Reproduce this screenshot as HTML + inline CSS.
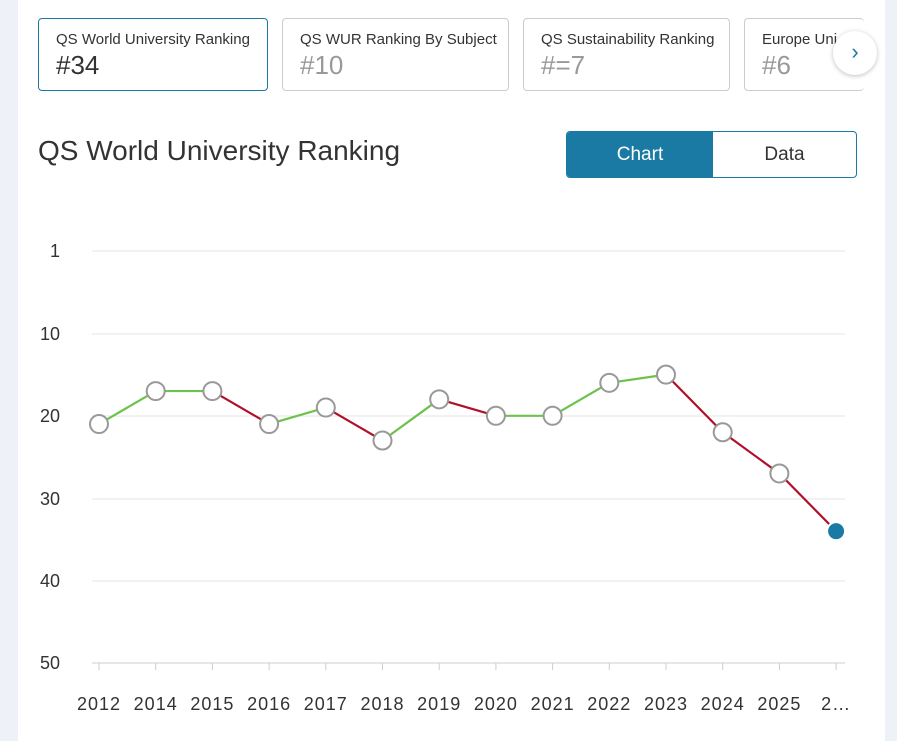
<!DOCTYPE html>
<html><head><style>
body{margin:0;width:897px;height:741px;background:#fff;font-family:"Liberation Sans",sans-serif;position:relative;overflow:hidden}
.strip{position:absolute;top:0;bottom:0;background:#eef2f8}
.card{position:absolute;top:18px;height:73px;border:1px solid #ccc;border-radius:4px;background:#fff;box-sizing:border-box;padding:12px 0 0 17px;overflow:hidden;white-space:nowrap}
.card .t{font-size:15px;color:#333}
.card .n{font-size:26px;color:#999;margin-top:2px}
</style></head><body>
<div class="strip" style="left:0;width:18px"></div>
<div class="strip" style="left:885px;width:12px"></div>
<div class="card" style="left:38px;width:230px;border-color:#1b7aa3"><div class="t">QS World University Ranking</div><div class="n" style="color:#333">#34</div></div>
<div class="card" style="left:282px;width:227px"><div class="t">QS WUR Ranking By Subject</div><div class="n">#10</div></div>
<div class="card" style="left:523px;width:207px"><div class="t">QS Sustainability Ranking</div><div class="n">#=7</div></div>
<div class="card" style="left:744px;width:120px;border-right:none"><div class="t">Europe Uni</div><div class="n">#6</div></div>
<div style="position:absolute;left:833px;top:31px;width:44px;height:44px;border-radius:50%;background:#fff;box-shadow:0 1px 5px rgba(0,0,0,.25);text-align:center;line-height:42px;color:#1b7aa3;font-size:22px">›</div>
<div style="position:absolute;left:38px;top:135px;font-size:28px;color:#333">QS World University Ranking</div>
<div style="position:absolute;left:566px;top:131px;width:291px;height:47px;border:1px solid #1b7aa3;border-radius:4px;box-sizing:border-box;overflow:hidden;font-size:19px">
<div style="position:absolute;left:0;top:0;width:146px;height:45px;background:#1b7aa3;color:#fff;text-align:center;line-height:45px">Chart</div>
<div style="position:absolute;left:146px;top:0;width:143px;height:45px;color:#333;text-align:center;line-height:45px">Data</div></div>
<svg width="897" height="741" style="position:absolute;left:0;top:0" font-family="Liberation Sans,sans-serif">
<g stroke="#e6e6e6" stroke-width="1">
<line x1="92" x2="845" y1="251" y2="251"/><line x1="92" x2="845" y1="334" y2="334"/><line x1="92" x2="845" y1="416" y2="416"/><line x1="92" x2="845" y1="499" y2="499"/><line x1="92" x2="845" y1="581" y2="581"/></g>
<line x1="92" x2="845" y1="663" y2="663" stroke="#ccc"/>
<g font-size="18" fill="#333" text-anchor="middle">
<text x="55" y="257">1</text><text x="50" y="340">10</text><text x="50" y="422">20</text><text x="50" y="505">30</text><text x="50" y="587">40</text><text x="50" y="669">50</text></g>
<g stroke="#ccc" id="ticks"></g>
<g font-size="18" fill="#333" text-anchor="middle" letter-spacing="1" id="xl"></g>
<g id="lines" stroke-width="2.2" fill="none"></g>
<g id="pts"></g>
</svg>
<script>
var yrs=["2012","2014","2015","2016","2017","2018","2019","2020","2021","2022","2023","2024","2025","2…"];
var v=[21,17,17,21,19,23,18,20,20,16,15,22,27,34];
var ns="http://www.w3.org/2000/svg";
function el(t,a,p){var e=document.createElementNS(ns,t);for(var k in a)e.setAttribute(k,a[k]);document.getElementById(p).appendChild(e);return e;}
function X(i){return 99+i*56.7;}function Y(r){return 251+8.24*r;}
for(var i=0;i<14;i++){el("line",{x1:X(i),x2:X(i),y1:663,y2:670},"ticks");var t=el("text",{x:X(i),y:710},"xl");t.textContent=yrs[i];}
for(var i=0;i<13;i++){el("line",{x1:X(i),y1:Y(v[i]),x2:X(i+1),y2:Y(v[i+1]),stroke:v[i+1]<=v[i]?"#6cc24a":"#b0102a"},"lines");}
for(var i=0;i<13;i++)el("circle",{cx:X(i),cy:Y(v[i]),r:9,fill:"#fff",stroke:"#999","stroke-width":2},"pts");
el("circle",{cx:X(13),cy:Y(34),r:9,fill:"#1b7aa3",stroke:"#fff","stroke-width":2},"pts");
</script>
</body></html>
